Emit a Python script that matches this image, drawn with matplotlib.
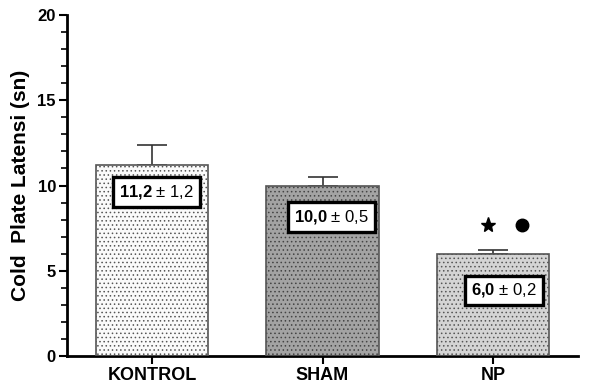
import numpy as np
import matplotlib.pyplot as plt
from matplotlib.ticker import MultipleLocator

plt.rcParams['font.family'] = ['Liberation Sans', 'DejaVu Sans']
plt.rcParams['mathtext.fontset'] = 'custom'
plt.rcParams['mathtext.rm'] = 'Liberation Sans'
plt.rcParams['mathtext.bf'] = 'Liberation Sans:bold'
plt.rcParams['hatch.linewidth'] = 0.6

groups = ["KONTROL", "SHAM", "NP"]
means = [11.2, 10.0, 6.0]
sems = [1.2, 0.5, 0.2]
colors = ["#fafafa", "#a3a3a3", "#d4d4d4"]
hatch_colors = ["#555555", "#444444", "#555555"]
label_x_shift = [0.027, 0.053, 0.065]
label_y = [9.6, 8.15, 3.85]

fig = plt.figure(figsize=(5.96, 3.87), dpi=100)
ax = fig.add_axes([0.1124, 0.0801, 0.8576, 0.8811])

x = np.arange(len(groups))
for i in range(len(groups)):
    ax.bar(x[i], means[i], width=0.66, color=colors[i], edgecolor=hatch_colors[i],
           hatch="....", linewidth=0, zorder=2)
    ax.bar(x[i], means[i], width=0.66, color="none", edgecolor="#555555",
           linewidth=1.2, zorder=3)
    ax.errorbar(x[i], means[i], yerr=[[0], [sems[i]]], fmt="none", ecolor="#333333",
                elinewidth=1.2, capsize=11, capthick=1.2, zorder=1)

    mean_txt = "{:.1f}".format(means[i]).replace(".", "{,}")
    sem_txt = "{:.1f}".format(sems[i]).replace(".", ",")
    ax.text(x[i] + label_x_shift[i], label_y[i],
            r"$\mathbf{" + mean_txt + r"}$ $\pm$ " + sem_txt,
            ha="center", va="center", fontsize=12, zorder=5,
            bbox=dict(boxstyle="square,pad=0.35", fc="white", ec="black", lw=2.4))

# significance markers over NP
ax.plot(x[2] - 0.03, 7.7, marker="*", color="black", markersize=11, zorder=5)
ax.plot(x[2] + 0.17, 7.7, marker="o", color="black", markersize=9, zorder=5)

ax.set_xlim(-0.5, 2.5)
ax.set_ylim(0, 20)
ax.set_xticks(x)
ax.set_xticklabels(groups, fontsize=13, fontweight="bold")
ax.set_yticks([0, 5, 10, 15, 20])
ax.set_yticklabels(["0", "5", "10", "15", "20"], fontsize=12, fontweight="bold")
ax.yaxis.set_minor_locator(MultipleLocator(1))
ax.set_ylabel("Cold  Plate Latensi (sn)", fontsize=15, fontweight="bold", labelpad=5)

for side in ["top", "right"]:
    ax.spines[side].set_visible(False)
for side in ["left", "bottom"]:
    ax.spines[side].set_linewidth(2)
ax.tick_params(axis="both", which="major", length=6, width=1.5, pad=2)
ax.tick_params(axis="y", which="minor", length=4, width=1.2)

fig.savefig("out.png", dpi=100)
